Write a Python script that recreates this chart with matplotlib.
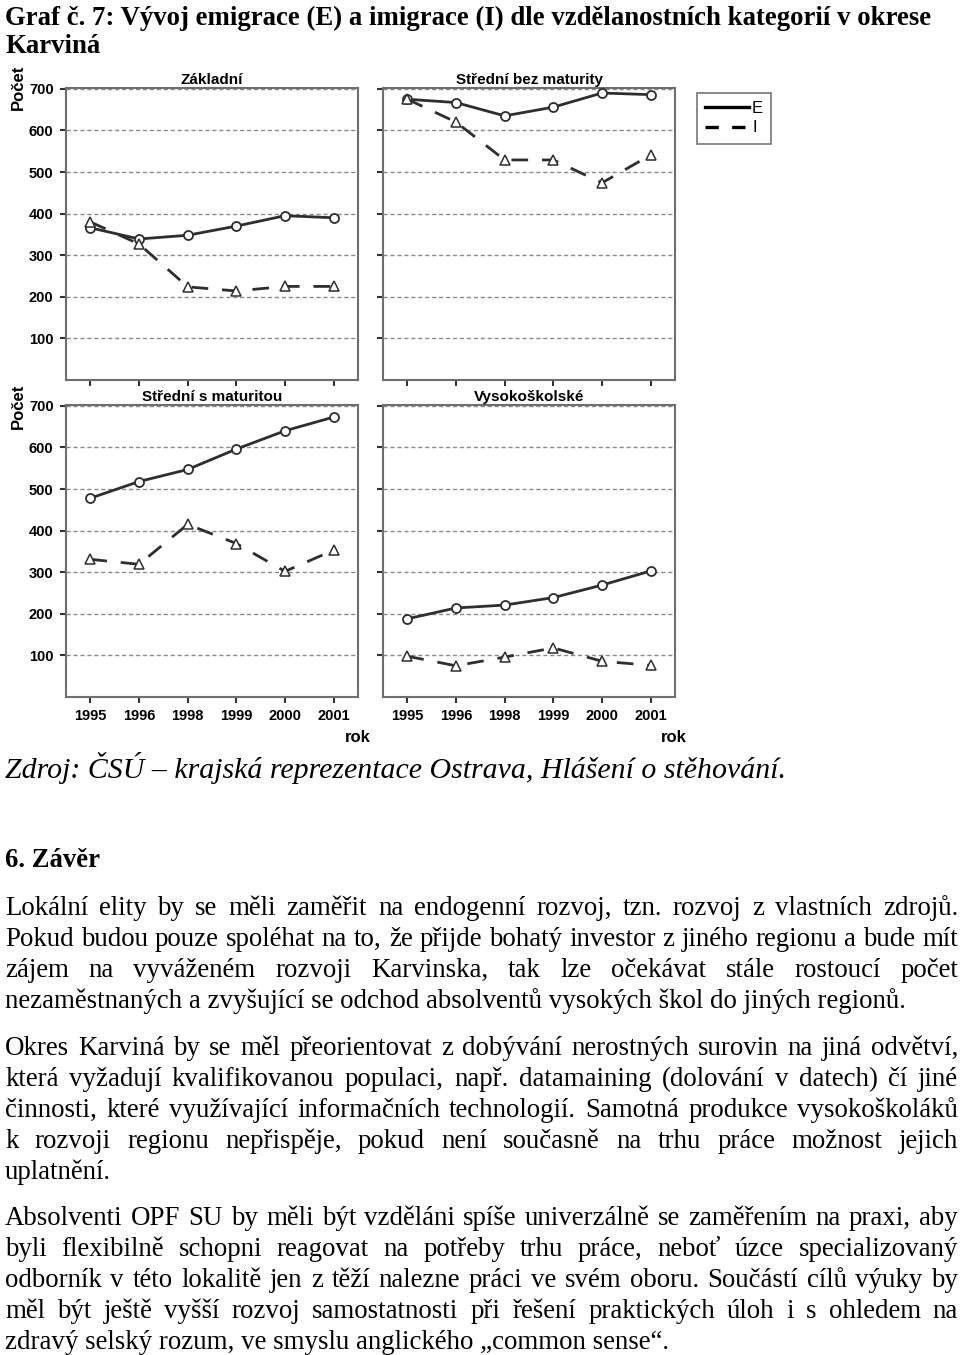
import matplotlib
matplotlib.use('Agg')
import matplotlib.pyplot as plt
from matplotlib.lines import Line2D

# roky (osa x) a nazvy panelu
years = ['1995', '1996', '1998', '1999', '2000', '2001']
titles = ['Základní', 'Střední bez maturity', 'Střední s maturitou', 'Vysokoškolské']
yticks = [100, 200, 300, 400, 500, 600, 700]

# emigrace (E) a imigrace (I)
e_zakladni = [366, 339, 348, 370, 395, 390]
i_zakladni = [380, 327, 224, 214, 225, 225]
e_bez_mat = [675, 667, 635, 656, 690, 686]
i_bez_mat = [675, 620, 529, 529, 474, 541]
e_s_mat = [478, 518, 547, 596, 640, 673]
i_s_mat = [331, 319, 415, 369, 302, 353]
e_vs = [188, 214, 221, 239, 269, 303]
i_vs = [98, 75, 96, 118, 86, 76]

emig = [e_zakladni, e_bez_mat, e_s_mat, e_vs]
imig = [i_zakladni, i_bez_mat, i_s_mat, i_vs]

W, H = 960, 1355
fig = plt.figure(figsize=(W / 100, H / 100), dpi=100)
fig.patch.set_facecolor('white')


def fx(x):
    return x / W


def fy(y):
    return 1 - y / H


sans = 'Liberation Sans'
serif = 'Liberation Serif'
dark = '#2e2e2e'

# 4 panely: (levy okraj, horni okraj) v pixelech
corners = [(66, 88), (383, 88), (66, 405), (383, 405)]
size = 292
xs = list(range(len(years)))
for k, (left, top) in enumerate(corners):
    ax = fig.add_axes([fx(left), fy(top + size), size / W, size / H])
    ax.plot(xs, emig[k], color=dark, lw=2, marker='o', ms=6.5,
            mfc='white', mec=dark, mew=1.3, zorder=3)
    ax.plot(xs, imig[k], color=dark, lw=2, dashes=(6, 5), marker='^', ms=6.5,
            mfc='white', mec=dark, mew=1.1, zorder=3)
    ax.set_xlim(-0.5, 5.5)
    ax.set_ylim(0, 702)
    ax.set_yticks(yticks)
    ax.set_xticks(xs)
    ax.set_xticklabels(years)
    ax.grid(axis='y', linestyle=(0, (3, 2)), color='#8a8a8a', lw=1)
    ax.set_axisbelow(True)
    for sp in ax.spines.values():
        sp.set_color('#6e6e6e')
        sp.set_linewidth(1.5)
    ax.tick_params(direction='out', length=4, width=1.5, color='#333333',
                   labelsize=10.5, pad=5)
    for lab in ax.get_xticklabels() + ax.get_yticklabels():
        lab.set_fontfamily(sans)
        lab.set_fontweight('bold')
    if k < 2:
        ax.tick_params(axis='x', labelbottom=False)
    if k % 2 == 1:
        ax.tick_params(axis='y', labelleft=False)
    ax.set_title(titles[k], fontsize=11, fontweight='bold', family=sans, pad=3)

# Pocet / rok
for yc in (87, 406):
    fig.text(fx(18), fy(yc), 'Počet', rotation=90, ha='center', va='center',
             fontsize=12, fontweight='bold', family=sans)
for xc in (358, 674):
    fig.text(fx(xc), fy(737), 'rok', ha='center', va='center',
             fontsize=12, fontweight='bold', family=sans)

# legenda
handles = [Line2D([], [], color='black', lw=2.4),
           Line2D([], [], color='black', lw=2.4, dashes=(4, 4))]
leg = fig.legend(handles, ['E', 'I'], loc='upper left',
                 bbox_to_anchor=(fx(697), fy(93)), borderaxespad=0,
                 frameon=True, fancybox=False,
                 handlelength=2.6, handletextpad=0.2, borderpad=0.5,
                 labelspacing=0.25, prop={'family': sans, 'size': 12})
leg.get_frame().set_edgecolor('#555555')
leg.get_frame().set_linewidth(1.2)

# ---------------- text stranky
r = fig.canvas.get_renderer()
X0, X1 = 5, 958


def fit_size(s, width, **kw):
    t = fig.text(0, 0, s, fontsize=20, **kw)
    w = t.get_window_extent(r).width
    t.remove()
    return 20 * width / w


def put(y, s, fs, just=False, **kw):
    if not just:
        fig.text(fx(X0), fy(y), s, fontsize=fs, va='baseline', **kw)
        return
    words = s.split()
    arts = [fig.text(0, fy(y), w, fontsize=fs, va='baseline', **kw) for w in words]
    widths = [a.get_window_extent(r).width for a in arts]
    gap = (X1 - X0 - sum(widths)) / (len(words) - 1)
    x = X0
    for a, w in zip(arts, widths):
        a.set_x(fx(x))
        x += w + gap


title1 = 'Graf č. 7: Vývoj emigrace (E) a imigrace (I) dle vzdělanostních kategorií v okrese'
tfs = fit_size(title1, 925, family=serif, fontweight='bold')
put(25, title1, tfs, family=serif, fontweight='bold')
put(53, 'Karviná', tfs, family=serif, fontweight='bold')

zdroj = 'Zdroj: ČSÚ – krajská reprezentace Ostrava, Hlášení o stěhování.'
zfs = fit_size(zdroj, 780, family=serif, style='italic')
put(778, zdroj, zfs, family=serif, style='italic')

put(867, '6. Závěr', tfs, family=serif, fontweight='bold')

paragraphs = [
    ['Lokální elity by se měli zaměřit na endogenní rozvoj, tzn. rozvoj z vlastních zdrojů.',
     'Pokud budou pouze spoléhat na to, že přijde bohatý investor z jiného regionu  a bude mít',
     'zájem na vyváženém rozvoji Karvinska, tak lze očekávat stále rostoucí počet',
     'nezaměstnaných a zvyšující se odchod absolventů vysokých škol do jiných regionů.'],
    ['Okres Karviná by se měl přeorientovat z dobývání nerostných surovin na jiná odvětví,',
     'která vyžadují kvalifikovanou populaci, např. datamaining (dolování v datech) čí jiné',
     'činnosti, které využívající informačních technologií. Samotná produkce vysokoškoláků',
     'k rozvoji regionu nepřispěje, pokud není současně na trhu práce možnost jejich',
     'uplatnění.'],
    ['Absolventi OPF SU by měli být vzděláni spíše univerzálně se zaměřením na praxi, aby',
     'byli flexibilně schopni reagovat na potřeby trhu práce, neboť úzce specializovaný',
     'odborník v této lokalitě jen z těží nalezne práci ve svém oboru. Součástí cílů výuky by',
     'měl být ještě vyšší rozvoj samostatnosti při řešení praktických úloh i s ohledem na',
     'zdravý selský rozum, ve smyslu anglického „common sense“.'],
]
para_start = [915, 1055, 1225]
bfs = fit_size(paragraphs[0][3], 900, family=serif)
for lines, y0 in zip(paragraphs, para_start):
    for i, s in enumerate(lines):
        put(y0 + 31 * i, s, bfs, just=(i < len(lines) - 1), family=serif)

fig.savefig('out.png', dpi=100)
